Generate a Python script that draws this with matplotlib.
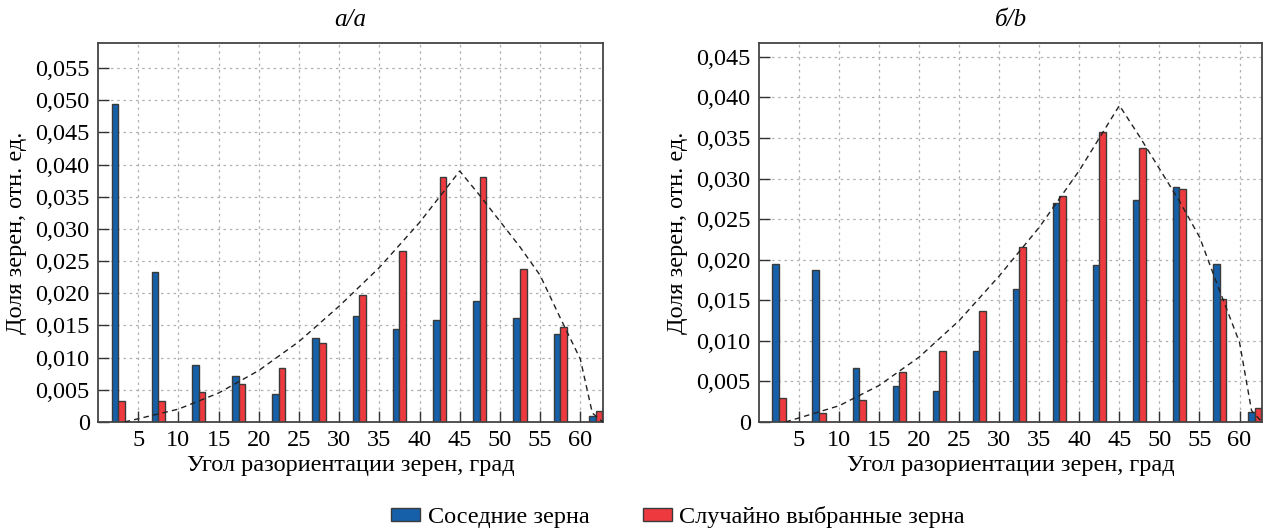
import matplotlib
matplotlib.use('Agg')
import matplotlib.pyplot as plt
from matplotlib.ticker import FuncFormatter, MultipleLocator
from matplotlib.patches import Patch

plt.rcParams['font.family'] = ['Liberation Serif', 'DejaVu Serif']

# Центры интервалов углов разориентации, град
centers = [2.5, 7.5, 12.5, 17.5, 22.5, 27.5, 32.5, 37.5, 42.5, 47.5, 52.5, 57.5, 61.9]

# Панель а/a
a_neighbor = [0.0494, 0.0233, 0.0089, 0.0072, 0.0043, 0.0131, 0.0164, 0.0144,
              0.0158, 0.0188, 0.0161, 0.0136, 0.0010]
a_random = [0.0033, 0.0033, 0.0047, 0.0059, 0.0084, 0.0123, 0.0197, 0.0265,
            0.0381, 0.0380, 0.0237, 0.0147, 0.0017]

# Панель б/b
b_neighbor = [0.0195, 0.0187, 0.0066, 0.0044, 0.0038, 0.0088, 0.0164, 0.0270,
              0.0194, 0.0273, 0.0289, 0.0195, 0.0012]
b_random = [0.0029, 0.0011, 0.0027, 0.0061, 0.0088, 0.0137, 0.0216, 0.0279,
            0.0357, 0.0338, 0.0287, 0.0152, 0.0017]

# Штриховая кривая (распределение Маккензи)
mack_x = [3.3, 5, 10, 15, 20, 25, 30, 35, 40, 45, 47.5, 50, 52.5, 55, 57.5, 60, 61.5, 62.8]
mack_y = [0.0, 0.0005, 0.002, 0.0045, 0.008, 0.0125, 0.018, 0.024, 0.031, 0.039,
          0.0352, 0.0312, 0.0272, 0.0228, 0.0162, 0.0098, 0.0014, 0.0]

panels = [
    ('а/a', a_neighbor, a_random, 0.0589, [0.0775, 0.2008, 0.399, 0.7178]),
    ('б/b', b_neighbor, b_random, 0.0467, [0.600, 0.2008, 0.3976, 0.7178]),
]

blue = '#1560a8'
red = '#ee3a3f'
w = 0.82

fig = plt.figure(figsize=(12.65, 5.28), dpi=100)

def fmt(v, pos):
    if abs(v) < 1e-9:
        return '0'
    return ('%.3f' % v).replace('.', ',')

for title, neigh, rnd, ytop, rect in panels:
    ax = fig.add_axes(rect)
    xl = [c - w / 2 for c in centers]
    xr = [c + w / 2 for c in centers]
    ax.bar(xl, neigh, width=w, color=blue, edgecolor='#3a3a3a', linewidth=1.0, zorder=2)
    ax.bar(xr, rnd, width=w, color=red, edgecolor='#3a3a3a', linewidth=1.0, zorder=2)
    ax.plot(mack_x, mack_y, color='#222222', linestyle=(0, (4, 3)), linewidth=1.0, zorder=3)

    ax.set_xlim(0, 62.8)
    ax.set_ylim(0, ytop)
    ax.yaxis.set_major_locator(MultipleLocator(0.005))
    ax.set_xticks(range(5, 61, 5))
    ax.yaxis.set_major_formatter(FuncFormatter(fmt))
    ax.tick_params(direction='in', length=8, width=1.0, color='#333333',
                   labelsize=17.5, pad=6)
    ax.grid(True, color='#b0b0b0', linestyle=(0, (2, 3)), linewidth=0.9, zorder=0)
    ax.set_axisbelow(True)
    for s in ax.spines.values():
        s.set_color('#444444')
        s.set_linewidth(1.3)

    ax.set_title(title, fontsize=18, style='italic', pad=12)
    ax.set_xlabel('Угол разориентации зерен, град', fontsize=17.5, labelpad=3)
    ax.set_ylabel('Доля зерен, отн. ед.', fontsize=17.5, labelpad=6)

handles = [Patch(facecolor=blue, edgecolor='#3a3a3a'),
           Patch(facecolor=red, edgecolor='#3a3a3a')]
fig.legend(handles, ['Соседние зерна', 'Случайно выбранные зерна'],
           loc='lower center', bbox_to_anchor=(0.536, -0.042), ncol=2, frameon=False,
           fontsize=17.5, handlelength=1.2, handleheight=0.45, columnspacing=2.2,
           handletextpad=0.3)

fig.savefig('out.png', dpi=100)
